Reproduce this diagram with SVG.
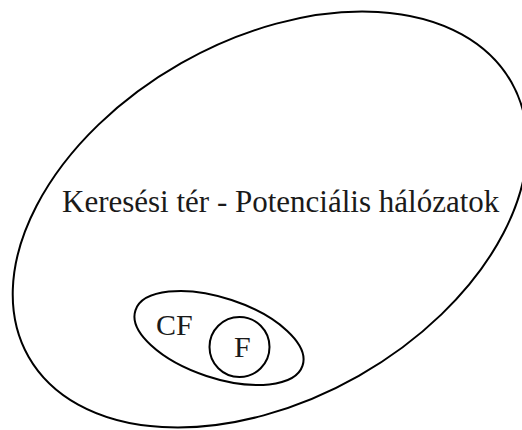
<svg xmlns="http://www.w3.org/2000/svg" width="522" height="430" viewBox="0 0 522 430">
<style>
.shape{fill:none;stroke:#000;stroke-width:2}
.lbl{font-family:"Liberation Serif","Times New Roman",serif;fill:#1a1a1a}
</style>
<rect x="0" y="0" width="522" height="430" fill="#fff"/>
<g id="search-space">
<ellipse class="shape" cx="270" cy="219.5" rx="277.7" ry="179.8" transform="rotate(-29.6 270 219.5)"/>
<text class="lbl" x="62" y="212" font-size="31">Keresési tér - Potenciális hálózatok</text>
</g>
<g id="CF">
<ellipse class="shape" cx="219" cy="338" rx="88" ry="40" transform="rotate(18.3 219 338)"/>
<text class="lbl" x="156" y="335" font-size="30">CF</text>
</g>
<g id="F">
<circle class="shape" cx="239.5" cy="347" r="30"/>
<text class="lbl" x="234" y="357" font-size="30">F</text>
</g>
<g id="connectors"/>
</svg>
